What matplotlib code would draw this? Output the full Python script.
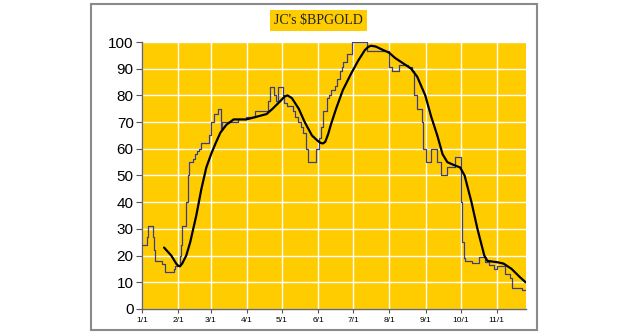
import matplotlib
matplotlib.use("Agg")
import matplotlib.pyplot as plt
from matplotlib.patches import Rectangle

# ---- data (day offset from Jan 1, value) ----
raw_days = [0, 4.5, 5.5, 9.5, 10.5, 11.5, 17, 19.5, 27.5, 28.5, 32.5, 33.5, 34.5, 37.5, 39,
            40.5, 43.5, 45, 47, 48.5, 50.5, 57.5, 59.5, 61.5, 65.5, 67.5, 68.5, 82, 89, 97,
            108, 109.5, 113.5, 115, 116.5, 120.5, 122, 124, 129, 131.5, 134, 136, 138, 140.5,
            142.5, 149.5, 151.5, 153.5, 155, 158.5, 160, 162, 165, 167, 169.5, 171, 172.5,
            174, 176, 179.5, 192.5, 212, 214.5, 220.5, 227.5, 231.5, 233, 235.5, 239.5, 241,
            243, 247.5, 253, 256.5, 261.5, 268.5, 273, 274.5, 275.5, 277, 283, 289, 293.5,
            297.5, 301.5, 304.5, 311, 315, 317, 325.5, 329]
raw_vals = [24, 27, 31, 27, 22, 18, 17, 14, 15, 16, 20, 24, 31, 40, 50,
            55, 56, 58, 59, 60, 62, 65, 70, 73, 75, 67, 70, 71, 72, 74,
            78, 83, 80, 78, 83, 80, 77, 76, 74, 72, 70, 68, 66, 60,
            55, 60, 64, 68, 74, 79, 80, 82, 83.5, 86, 89, 90.5, 92.5,
            92.6, 95.5, 100, 96.5, 90.5, 89, 91.5, 90.7, 89, 80, 75, 70, 60,
            55, 60, 55, 50, 53, 57, 40, 25, 19, 18, 17.3, 19.5, 17.5,
            16.3, 15, 16, 13, 11.7, 8, 7, 7]

ma_days = [18.9, 25.1, 29.3, 31, 32.5, 34.4, 37.9, 41.3, 46.5, 50.9, 55.1, 59.2, 63, 67.1,
           72.3, 78.5, 84.3, 89.5, 98.1, 106.7, 111.9, 118.8, 122, 124.6, 128.4, 134.3,
           139.4, 145.6, 150.5, 153, 155, 157, 159.5, 161.8, 166.3, 172.1, 179, 185.2, 191,
           194, 196.2, 200.3, 206.5, 211.7, 216.9, 223.8, 230.6, 235.8, 242.7, 247.8, 253,
           257.5, 261.6, 266.8, 272.6, 276.4, 282.3, 287.4, 293.3, 296, 304.6, 309.8, 316.7,
           323.6, 328.7]
ma_vals = [23, 20, 17, 16.2, 16, 17, 20, 25, 35, 45, 53, 58, 62, 66,
           69, 71, 71, 71, 72, 73, 75, 78, 79.5, 80, 79, 75,
           70, 65, 63, 62.2, 62, 62.6, 65.5, 69, 75, 82, 88, 93, 97,
           98.2, 98.6, 98.3, 97, 96, 94, 92, 90, 87, 80, 72, 65,
           58, 55, 54, 53, 50, 40, 30, 20, 18, 17.5, 17, 15,
           12, 10]

tick_days = [0, 31, 59, 90, 120, 151, 181, 212, 243, 273, 304]
tick_labels = ["1/1", "2/1", "3/1", "4/1", "5/1", "6/1", "7/1", "8/1", "9/1", "10/1", "11/1"]
y_ticks = [0, 10, 20, 30, 40, 50, 60, 70, 80, 90, 100]
title = "JC's $BPGOLD"

# ---- figure ----
fig = plt.figure(figsize=(6.3, 3.36), dpi=100)
fig.patch.set_facecolor("white")

frame = Rectangle((0.1444, 0.0179), 0.708, 0.970, transform=fig.transFigure,
                  fill=False, edgecolor="#8a8a8a", linewidth=1.5, zorder=0)
fig.patches.append(frame)

ax = fig.add_axes([0.2254, 0.0804, 0.6095, 0.7946])
ax.set_facecolor("#FFCC00")
ax.set_xlim(0, 329)
ax.set_ylim(0, 100)

for d in tick_days:
    ax.axvline(d, color="white", lw=1.0, zorder=1)
for yv in y_ticks:
    ax.axhline(yv, color="white", lw=1.0, zorder=1)

ax.step(raw_days, raw_vals, where="post", color="#3d3d85", lw=0.9, zorder=3)
ax.plot(ma_days, ma_vals, color="black", lw=1.6, zorder=4,
        solid_capstyle="round", solid_joinstyle="round")

ax.set_xticks(tick_days)
ax.set_xticklabels(tick_labels, fontsize=6, family="Liberation Sans")
ax.set_yticks(y_ticks)
ax.set_yticklabels([str(v) for v in y_ticks], fontsize=11, family="Liberation Sans")
ax.tick_params(axis="y", direction="out", length=4, color="#555555", pad=2)
ax.tick_params(axis="x", direction="out", length=3, color="#555555", pad=3)

for s in ["top", "right"]:
    ax.spines[s].set_visible(False)
for s in ["left", "bottom"]:
    ax.spines[s].set_color("#666666")
    ax.spines[s].set_linewidth(1.0)

fig.text(0.505, 0.938, title, ha="center", va="center", fontsize=10,
         family="Liberation Serif", color="#222222",
         bbox=dict(boxstyle="square,pad=0.3", facecolor="#FFCC00", edgecolor="none"))

fig.savefig("out.png", dpi=100)
